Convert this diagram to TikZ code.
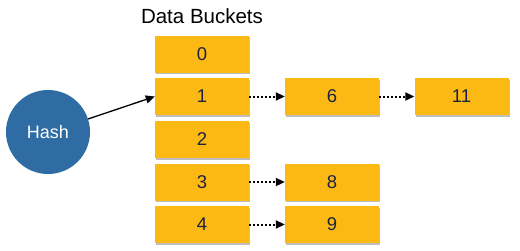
\documentclass[tikz,border=0pt]{standalone}
\usepackage{fontspec}
\setmainfont{Liberation Sans}
\usetikzlibrary{arrows.meta,shadows}
\definecolor{bucket}{HTML}{FDB913}
\definecolor{hashblue}{HTML}{2E6CA3}
\definecolor{txt}{HTML}{1B2340}
\begin{document}
\begin{tikzpicture}[x=1pt,y=-1pt,
  bucketbox/.style={fill=bucket, minimum width=94pt, minimum height=37pt, inner sep=0pt,
    font=\fontsize{18.5}{22}\selectfont, text=txt,
    drop shadow={shadow xshift=1pt, shadow yshift=-1.5pt, fill=black, opacity=0.25}},
  hashnode/.style={circle, fill=hashblue, minimum size=84pt, inner sep=0pt, text=white,
    font=\fontsize{18}{22}\selectfont},
  ptr/.style={-{Triangle[length=9pt,width=8pt]}, line width=1.3pt},
  chain/.style={-{Triangle[length=9pt,width=8pt]}, line width=2pt, dash pattern=on 2pt off 2pt}
]
\useasboundingbox (0,0) rectangle (520,250);
\node[font=\fontsize{20.5}{24}\selectfont] (title) at (202,16) {Data Buckets};
\node[bucketbox] (b0) at (202,54) {0};
\node[bucketbox] (b1) at (202,96.5) {1};
\node[bucketbox] (b2) at (202,139.5) {2};
\node[bucketbox] (b3) at (202,182) {3};
\node[bucketbox] (b4) at (202,224.5) {4};
\node[bucketbox] (b6) at (332,96.5) {6};
\node[bucketbox] (b11) at (461.5,96.5) {11};
\node[bucketbox] (b8) at (332,182) {8};
\node[bucketbox] (b9) at (332,224.5) {9};
\node[hashnode] (hash) at (48,132) {Hash};
\draw[ptr] (hash.18) -- (b1.west);
\draw[chain] (b1.east) -- (b6.west);
\draw[chain] (b6.east) -- (b11.west);
\draw[chain] (b3.east) -- (b8.west);
\draw[chain] (b4.east) -- (b9.west);
\end{tikzpicture}
\end{document}
